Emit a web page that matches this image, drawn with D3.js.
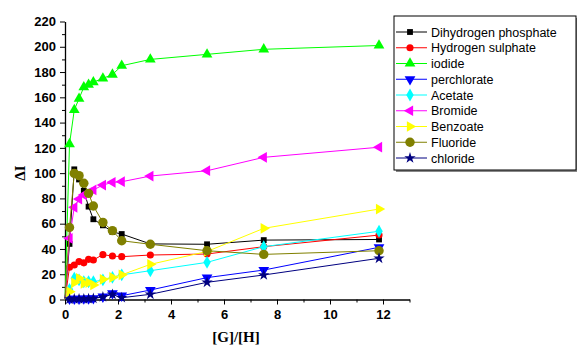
<!DOCTYPE html>
<html>
<head>
<meta charset="utf-8">
<script src="https://cdn.jsdelivr.net/npm/d3@7"></script>
<style>
  body { margin: 0; background: #fff; }
  svg { display: block; }
</style>
</head>
<body>
<div id="chart"></div>
<script>
// shared titration points [G]/[H]
const ratio = [0, 0.17, 0.35, 0.53, 0.71, 0.89, 1.07, 1.43, 1.79, 2.14, 3.22, 5.36, 7.5, 11.85];

const names = ['Dihydrogen phosphate', 'Hydrogen sulphate', 'iodide', 'perchlorate', 'Acetate',
  'Bromide', 'Benzoate', 'Fluoride', 'chloride'];

const dihydrogenPhosphate = [0, 44, 103, 95, 86, 73.5, 63.5, 58.7, 53.4, 51.8, 44, 43.7, 47, 47.5];
const hydrogenSulphate = [0, 25.5, 27.3, 30, 29, 31.8, 31.3, 35.5, 34.4, 33.9, 35.2, 36, 41.8, 51];
const iodide = [0, 123, 150, 159, 168, 170, 172, 175, 178, 185, 190, 194, 198, 201];
const perchlorate = [0, 0.5, 0.5, 0.6, 0.7, 0.8, 1, 2.2, 4.9, 3, 7.5, 17.3, 23.3, 41.3];
const acetate = [0, 8, 16.8, 15.5, 14, 14, 14, 15.5, 17.5, 19.5, 22.8, 29.4, 41.8, 54];
const bromide = [0, 48.4, 73, 79.5, 82.7, 84.5, 86.7, 90.6, 92.7, 93.2, 97.7, 101.9, 112.5, 120.5];
const benzoate = [0, 6.2, 13.3, 16.8, 12.8, 13.3, 11.5, 16, 17.5, 19.5, 27.8, 38, 56.3, 71.6];
const fluoride = [0, 57, 99.8, 98, 92, 84, 74, 61, 54.5, 46.5, 43.7, 38.6, 35.7, 38.6];
const chloride = [0, 0.3, 0.4, 0.5, 0.5, 0.6, 0.8, 2, 4, 1.4, 4.1, 13.6, 19.4, 32.6];

const values = [dihydrogenPhosphate, hydrogenSulphate, iodide, perchlorate, acetate,
  bromide, benzoate, fluoride, chloride];
const colors = ['#000000', '#ff0000', '#00ff00', '#0000ff', '#00ffff', '#ff00ff', '#ffff00', '#808000', '#000080'];
const markers = [
  { type: d3.symbolSquare, size: 34, rot: 0 },
  { type: d3.symbolCircle, size: 40, rot: 0 },
  { type: d3.symbolTriangle, size: 50, rot: 0 },
  { type: d3.symbolTriangle, size: 50, rot: 180 },
  { type: d3.symbolDiamond, size: 48, rot: 0 },
  { type: d3.symbolTriangle, size: 50, rot: -90 },
  { type: d3.symbolTriangle, size: 50, rot: 90 },
  { type: d3.symbolCircle, size: 70, rot: 0 },
  { type: d3.symbolStar, size: 40, rot: 0 }
];

const xTicks = [0, 2, 4, 6, 8, 10, 12];
const yTicks = [0, 20, 40, 60, 80, 100, 120, 140, 160, 180, 200, 220];

const width = 577, height = 350;
const mLeft = 65, mRight = 409.5, mTop = 21.5, mBottom = 299.5;

const svg = d3.select('#chart').append('svg').attr('width', width).attr('height', height);

const x = d3.scaleLinear().domain([0, 13]).range([mLeft, mRight]);
const y = d3.scaleLinear().domain([0, 220]).range([mBottom, mTop]);

// axes
svg.append('g').attr('transform', `translate(0,${mBottom})`)
  .call(d3.axisBottom(x).tickValues(xTicks).tickSize(5).tickPadding(5).tickSizeOuter(0));
svg.append('g').attr('transform', `translate(0,${mBottom})`)
  .call(d3.axisBottom(x).tickValues(d3.range(1, 14, 2)).tickSize(3).tickFormat('').tickSizeOuter(0))
  .select('.domain').remove();
svg.append('g').attr('transform', `translate(${mLeft},0)`)
  .call(d3.axisLeft(y).tickValues(yTicks).tickSize(5).tickPadding(4).tickSizeOuter(0));
svg.append('g').attr('transform', `translate(${mLeft},0)`)
  .call(d3.axisLeft(y).tickValues(d3.range(10, 220, 20)).tickSize(3).tickFormat('').tickSizeOuter(0))
  .select('.domain').remove();

svg.selectAll('.domain').attr('stroke', '#000').attr('stroke-width', 1.3);
svg.selectAll('.tick line').attr('stroke', '#000').attr('stroke-width', 1);
svg.selectAll('.tick text')
  .attr('font-family', 'Liberation Sans, Arial, sans-serif')
  .attr('font-weight', 'bold').attr('font-size', 13).attr('fill', '#000');

// axis titles
svg.append('text').attr('x', 236).attr('y', 342).attr('text-anchor', 'middle')
  .attr('font-family', 'Liberation Serif, Times New Roman, serif')
  .attr('font-weight', 'bold').attr('font-size', 15).text('[G]/[H]');
svg.append('text').attr('transform', 'translate(25,173) rotate(-90)').attr('text-anchor', 'middle')
  .attr('font-family', 'Liberation Serif, Times New Roman, serif')
  .attr('font-weight', 'bold').attr('font-size', 15).text('ΔI');

// series
const line = d3.line().x(d => x(d[0])).y(d => y(d[1]));
values.forEach((vals, i) => {
  const pts = ratio.map((r, j) => [r, vals[j]]);
  const g = svg.append('g');
  g.append('path').datum(pts).attr('d', line)
    .attr('fill', 'none').attr('stroke', colors[i]).attr('stroke-width', 1);
  g.selectAll('path.m').data(pts.slice(1)).enter().append('path').attr('class', 'm')
    .attr('d', d3.symbol().type(markers[i].type).size(markers[i].size))
    .attr('transform', d => `translate(${x(d[0])},${y(d[1])}) rotate(${markers[i].rot})`)
    .attr('fill', colors[i]);
});

// legend
const lg = svg.append('g');
lg.append('rect').attr('x', 396).attr('y', 18).attr('width', 182).attr('height', 154).attr('fill', '#888');
lg.append('rect').attr('x', 394).attr('y', 16).attr('width', 182).attr('height', 154)
  .attr('fill', '#fff').attr('stroke', '#000').attr('stroke-width', 1);
names.forEach((n, i) => {
  const cy = 32 + i * 15.75;
  lg.append('line').attr('x1', 396).attr('x2', 427).attr('y1', cy).attr('y2', cy)
    .attr('stroke', colors[i]).attr('stroke-width', 1);
  lg.append('path').attr('d', d3.symbol().type(markers[i].type).size(markers[i].size))
    .attr('transform', `translate(410,${cy}) rotate(${markers[i].rot})`).attr('fill', colors[i]);
  lg.append('text').attr('x', 431).attr('y', cy + 4.5)
    .attr('font-family', 'Liberation Sans, Arial, sans-serif').attr('font-size', 12.5).text(n);
});
</script>
</body>
</html>
